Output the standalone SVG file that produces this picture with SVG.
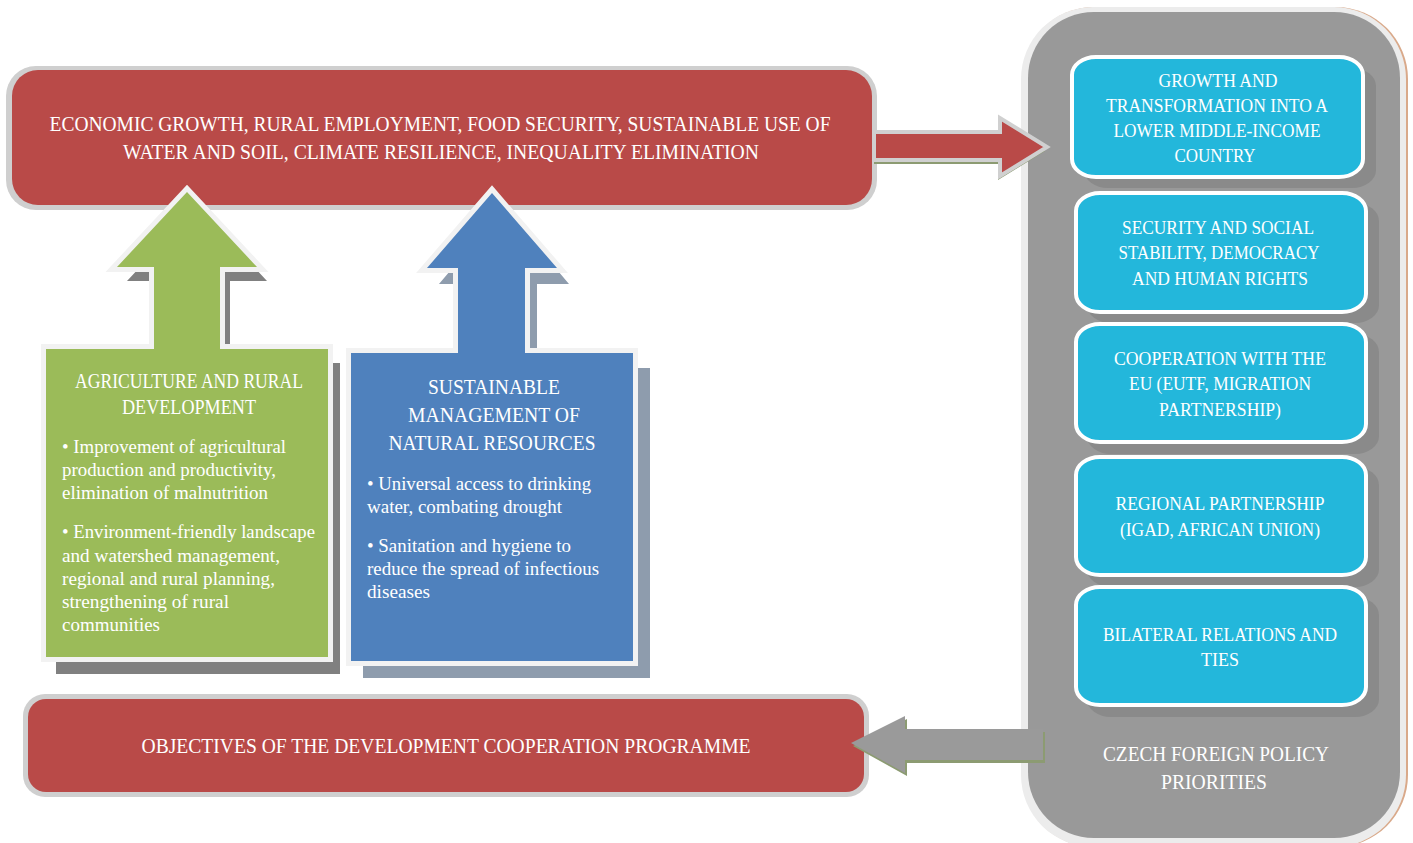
<svg xmlns="http://www.w3.org/2000/svg" width="1413" height="843" viewBox="0 0 1413 843">
<style>
text{font-family:"Liberation Serif","Times New Roman",serif;fill:#ffffff}
.t{font-size:21px;text-anchor:middle}
.c{font-size:19px;text-anchor:middle}
.b{font-size:18px}
.cy{fill:#23b7db;stroke:#ffffff;stroke-width:4}
.cysh{fill:#8a8a8a}
</style>
<rect width="1413" height="843" fill="#ffffff"/>

<g id="czech-panel">
  <rect x="1022" y="7" width="386" height="840" rx="72" fill="#d9a98a"/>
  <rect x="1021" y="7" width="385" height="840" rx="72" fill="#ececec"/>
  <rect x="1028" y="12" width="372" height="826" rx="66" fill="#999999"/>
  <text class="t" x="1216" y="761" textLength="226" lengthAdjust="spacingAndGlyphs" fill="#f2f2f2">CZECH FOREIGN POLICY</text>
  <text class="t" x="1214" y="789" textLength="106" lengthAdjust="spacingAndGlyphs">PRIORITIES</text>
</g>

<g id="p1">
  <rect class="cysh" x="1084" y="68" width="292" height="120" rx="24" ry="18"/>
  <rect class="cy" x="1072" y="57" width="291" height="120" rx="24" ry="18"/>
  <text class="c" x="1218" y="87" textLength="119" lengthAdjust="spacingAndGlyphs">GROWTH AND</text>
  <text class="c" x="1217" y="112" textLength="222" lengthAdjust="spacingAndGlyphs">TRANSFORMATION INTO A</text>
  <text class="c" x="1217" y="137" textLength="207" lengthAdjust="spacingAndGlyphs">LOWER MIDDLE-INCOME</text>
  <text class="c" x="1215" y="162" textLength="81" lengthAdjust="spacingAndGlyphs">COUNTRY</text>
</g>
<g id="p2">
  <rect class="cysh" x="1087" y="203" width="292" height="120" rx="24" ry="18"/>
  <rect class="cy" x="1076" y="193" width="290" height="119" rx="24" ry="18"/>
  <text class="c" x="1218" y="234" textLength="192" lengthAdjust="spacingAndGlyphs">SECURITY AND SOCIAL</text>
  <text class="c" x="1219" y="259" textLength="201" lengthAdjust="spacingAndGlyphs">STABILITY, DEMOCRACY</text>
  <text class="c" x="1220" y="285" textLength="176" lengthAdjust="spacingAndGlyphs">AND HUMAN RIGHTS</text>
</g>
<g id="p3">
  <rect class="cysh" x="1087" y="334" width="292" height="120" rx="24" ry="18"/>
  <rect class="cy" x="1076" y="324" width="290" height="118" rx="24" ry="18"/>
  <text class="c" x="1220" y="365" textLength="212" lengthAdjust="spacingAndGlyphs">COOPERATION WITH THE</text>
  <text class="c" x="1220" y="390" textLength="182" lengthAdjust="spacingAndGlyphs">EU (EUTF, MIGRATION</text>
  <text class="c" x="1220" y="416" textLength="122" lengthAdjust="spacingAndGlyphs">PARTNERSHIP)</text>
</g>
<g id="p4">
  <rect class="cysh" x="1087" y="467" width="292" height="120" rx="24" ry="18"/>
  <rect class="cy" x="1076" y="457" width="290" height="118" rx="24" ry="18"/>
  <text class="c" x="1220" y="510" textLength="209" lengthAdjust="spacingAndGlyphs">REGIONAL PARTNERSHIP</text>
  <text class="c" x="1220" y="536" textLength="200" lengthAdjust="spacingAndGlyphs">(IGAD, AFRICAN UNION)</text>
</g>
<g id="p5">
  <rect class="cysh" x="1087" y="597" width="292" height="120" rx="24" ry="18"/>
  <rect class="cy" x="1076" y="587" width="290" height="118" rx="24" ry="18"/>
  <text class="c" x="1220" y="641" textLength="234" lengthAdjust="spacingAndGlyphs">BILATERAL RELATIONS AND</text>
  <text class="c" x="1220" y="666" textLength="38" lengthAdjust="spacingAndGlyphs">TIES</text>
</g>

<g id="goal">
  <rect x="6" y="66" width="871" height="144" rx="30" fill="#cfcfcf"/>
  <rect x="12" y="70" width="860" height="135" rx="26" fill="#b94a48"/>
  <text class="t" x="440" y="131" textLength="781" lengthAdjust="spacingAndGlyphs">ECONOMIC GROWTH, RURAL EMPLOYMENT, FOOD SECURITY, SUSTAINABLE USE OF</text>
  <text class="t" x="441" y="159" textLength="636" lengthAdjust="spacingAndGlyphs">WATER AND SOIL, CLIMATE RESILIENCE, INEQUALITY ELIMINATION</text>
</g>

<g id="agriculture">
  <polygon points="56,363 164,363 164,281 127,281 197,206 267,281 230,281 230,363 340,363 340,674 56,674" fill="#808080"/>
  <polygon points="46,349 154,349 154,267 117,267 187,192 257,267 220,267 220,349 328,349 328,657 46,657" fill="#f2f2f2" stroke="#f2f2f2" stroke-width="10" stroke-linejoin="miter"/>
  <polygon points="46,349 154,349 154,267 117,267 187,192 257,267 220,267 220,349 328,349 328,657 46,657" fill="#9bbb59"/>
  <text class="t" x="189" y="388" font-size="20" textLength="228" lengthAdjust="spacingAndGlyphs">AGRICULTURE AND RURAL</text>
  <text class="t" x="189" y="414" font-size="20" textLength="134" lengthAdjust="spacingAndGlyphs">DEVELOPMENT</text>
  <text class="b" x="62" y="453" textLength="224" lengthAdjust="spacingAndGlyphs">• Improvement of agricultural</text>
  <text class="b" x="62" y="476" textLength="214" lengthAdjust="spacingAndGlyphs">production and productivity,</text>
  <text class="b" x="62" y="499" textLength="206" lengthAdjust="spacingAndGlyphs">elimination of malnutrition</text>
  <text class="b" x="62" y="538" textLength="253" lengthAdjust="spacingAndGlyphs">• Environment-friendly landscape</text>
  <text class="b" x="62" y="562" textLength="218" lengthAdjust="spacingAndGlyphs">and watershed management,</text>
  <text class="b" x="62" y="585" textLength="213" lengthAdjust="spacingAndGlyphs">regional and rural planning,</text>
  <text class="b" x="62" y="608" textLength="167" lengthAdjust="spacingAndGlyphs">strengthening of rural</text>
  <text class="b" x="62" y="631" textLength="98" lengthAdjust="spacingAndGlyphs">communities</text>
</g>

<g id="natural-resources">
  <polygon points="363,368 470,368 470,284 439,284 504,207 569,284 537,284 537,368 650,368 650,678 363,678" fill="#8e9cad"/>
  <polygon points="351,353 458,353 458,268 427,268 492,193 557,268 525,268 525,353 633,353 633,661 351,661" fill="#f2f2f2" stroke="#f2f2f2" stroke-width="10" stroke-linejoin="miter"/>
  <polygon points="351,353 458,353 458,268 427,268 492,193 557,268 525,268 525,353 633,353 633,661 351,661" fill="#4f81bd"/>
  <text class="t" x="494" y="394" font-size="22" textLength="132" lengthAdjust="spacingAndGlyphs">SUSTAINABLE</text>
  <text class="t" x="494" y="422" font-size="22" textLength="172" lengthAdjust="spacingAndGlyphs">MANAGEMENT OF</text>
  <text class="t" x="492" y="450" font-size="22" textLength="207" lengthAdjust="spacingAndGlyphs">NATURAL RESOURCES</text>
  <text class="b" x="367" y="490" textLength="224" lengthAdjust="spacingAndGlyphs">• Universal access to drinking</text>
  <text class="b" x="367" y="513" textLength="195" lengthAdjust="spacingAndGlyphs">water, combating drought</text>
  <text class="b" x="367" y="552" textLength="204" lengthAdjust="spacingAndGlyphs">• Sanitation and hygiene to</text>
  <text class="b" x="367" y="575" textLength="232" lengthAdjust="spacingAndGlyphs">reduce the spread of infectious</text>
  <text class="b" x="367" y="598" textLength="63" lengthAdjust="spacingAndGlyphs">diseases</text>
</g>

<g id="objectives">
  <rect x="23" y="694" width="846" height="103" rx="22" fill="#cfcfcf"/>
  <rect x="28" y="699" width="836" height="93" rx="18" fill="#b94a48"/>
  <text class="t" x="446" y="753" font-size="20" textLength="609" lengthAdjust="spacingAndGlyphs">OBJECTIVES OF THE DEVELOPMENT COOPERATION PROGRAMME</text>
</g>

<g id="connectors">
  <polygon points="874,136 998,136 998,123 1045,151 998,180 998,164 874,164" fill="#8c9b72"/>
  <polygon points="874,132 1000,132 1000,118 1047,147 1000,176 1000,160 874,160" fill="#b94a48" stroke="#d0d0d0" stroke-width="4" stroke-linejoin="miter"/>
  <polygon points="853,746 907,719 907,732 1045,732 1045,763 907,763 907,776" fill="#8c9b72"/>
  <polygon points="851,743 905,716 905,729 1043,729 1043,760 905,760 905,773" fill="#9a9a9a"/>
</g>
</svg>
